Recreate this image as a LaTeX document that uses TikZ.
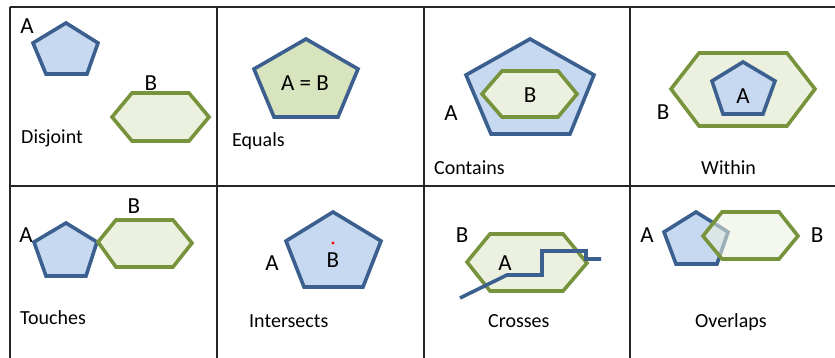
\documentclass[tikz,border=0pt]{standalone}
\usepackage{fontspec}
\setmainfont{Carlito}
\definecolor{bstroke}{HTML}{3B5F8E}
\definecolor{bfill}{HTML}{C6D9F1}
\definecolor{gstroke}{HTML}{77933C}
\definecolor{gfill}{HTML}{EBF1DE}
\definecolor{efill}{HTML}{D7E4BD}
\definecolor{gridc}{HTML}{262626}
\begin{document}
\begin{tikzpicture}[x=1pt,y=-1pt,
  gridline/.style={draw=gridc,line width=1.1pt},
  pent/.style={draw=bstroke,fill=bfill,line width=3.6pt,line join=miter},
  hexa/.style={draw=gstroke,fill=gfill,line width=3.6pt,line join=miter},
  lbl/.style={inner sep=0pt,font=\fontsize{23}{27}\selectfont},
  caption/.style={inner sep=0pt,font=\fontsize{20}{24}\selectfont,anchor=base west}]
\useasboundingbox (0,0) rectangle (835,358);
% grid
\draw[gridline] (10,7) -- (835,7);
\draw[gridline] (10,186) -- (835,186);
\foreach \x in {10,217,424,630} \draw[gridline] (\x,7) -- (\x,358);
% ---- Disjoint
\draw[pent] (66,23) -- (98,43) -- (87,74) -- (46,74) -- (33,43) -- cycle;
\draw[hexa] (112,117) -- (132,93) -- (189,93) -- (209,117) -- (189,141) -- (132,141) -- cycle;
\node[lbl] (dA) at (27,26) {A};
\node[lbl] (dB) at (151,83) {B};
\node[caption] (dC) at (21,144) {Disjoint};
% ---- Equals
\draw[pent,fill=efill] (306,39) -- (358,69) -- (338,117) -- (274,117) -- (254,69) -- cycle;
\node[lbl] (eAB) at (305,83) {A = B};
\node[caption] (eC) at (232,147) {Equals};
% ---- Contains
\draw[pent] (530,39) -- (594,75) -- (570,134) -- (491,134) -- (466,75) -- cycle;
\draw[hexa] (482,94) -- (502,71) -- (558,71) -- (577,94) -- (558,117) -- (502,117) -- cycle;
\node[lbl] (cB) at (530,95) {B};
\node[lbl] (cA) at (451,113) {A};
\node[caption] (cC) at (434,175) {Contains};
% ---- Within
\draw[hexa] (671,89) -- (699,53) -- (787,53) -- (815,89) -- (787,126) -- (699,126) -- cycle;
\draw[pent] (743,62) -- (775,81) -- (763,114) -- (723,114) -- (712,81) -- cycle;
\node[lbl] (wA) at (743,96) {A};
\node[lbl] (wB) at (663,112) {B};
\node[caption] (wC) at (701,175) {Within};
% ---- Touches
\draw[pent] (66,223) -- (97,242) -- (86,276) -- (46,276) -- (34,242) -- cycle;
\draw[hexa] (98,242) -- (116,220) -- (173,220) -- (192,243) -- (173,267) -- (116,267) -- cycle;
\node[lbl] (tA) at (26,235) {A};
\node[lbl] (tB) at (134,206) {B};
\node[caption] (tC) at (20,324) {Touches};
% ---- Intersects
\draw[pent] (333,212) -- (381,241) -- (363,287) -- (304,287) -- (286,241) -- cycle;
\fill[red] (333,243) circle (1.6pt);
\node[lbl] (iB) at (333,260) {B};
\node[lbl] (iA) at (272,263) {A};
\node[caption] (iC) at (249,327) {Intersects};
% ---- Crosses
\draw[hexa] (467,262) -- (490,234) -- (563,234) -- (587,263) -- (563,291) -- (490,291) -- cycle;
\draw[draw=bstroke,line width=3.6pt,line join=miter] (460,298) -- (507,275) -- (542,275) -- (542,251) -- (586,251) -- (586,259) -- (601,259);
\node[lbl] (xA) at (505,263) {A};
\node[lbl] (xB) at (462,235) {B};
\node[caption] (xC) at (488,327) {Crosses};
% ---- Overlaps
\draw[pent] (696,212) -- (728,232) -- (717,264) -- (676,264) -- (664,232) -- cycle;
\draw[hexa,fill opacity=0.55] (703,236) -- (722,212) -- (779,212) -- (798,236) -- (779,259) -- (722,259) -- cycle;
\node[lbl] (oA) at (647,235) {A};
\node[lbl] (oB) at (817,235) {B};
\node[caption] (oC) at (695,327) {Overlaps};
\end{tikzpicture}
\end{document}
